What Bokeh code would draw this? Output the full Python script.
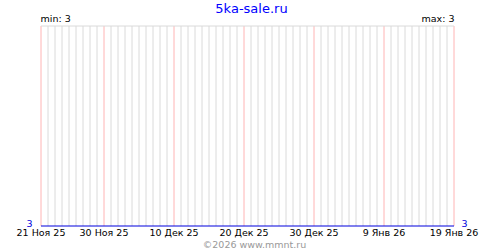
import datetime as dt
from bokeh.plotting import figure
from bokeh.models import Range1d
from bokeh.core.properties import value
from bokeh.embed import file_html
from bokeh.resources import INLINE

# ---- data ----
title_text = "5ka-sale.ru"
footer_text = "\u00a92026 www.mmnt.ru"
start_date = dt.date(2025, 11, 21)
n_days = 60
values = [3, 3, 3, 3, 3, 3, 3, 3, 3, 3,
          3, 3, 3, 3, 3, 3, 3, 3, 3, 3,
          3, 3, 3, 3, 3, 3, 3, 3, 3, 3,
          3, 3, 3, 3, 3, 3, 3, 3, 3, 3,
          3, 3, 3, 3, 3, 3, 3, 3, 3, 3,
          3, 3, 3, 3, 3, 3, 3, 3, 3, 3]
tick_dates = [dt.date(2025, 11, 21), dt.date(2025, 11, 30), dt.date(2025, 12, 10),
              dt.date(2025, 12, 20), dt.date(2025, 12, 30), dt.date(2026, 1, 9),
              dt.date(2026, 1, 19)]
tick_labels = ["21 Ноя 25", "30 Ноя 25", "10 Дек 25", "20 Дек 25",
               "30 Дек 25", "9 Янв 26", "19 Янв 26"]

days = list(range(n_days))
tick_days = [(d - start_date).days for d in tick_dates]
vmin, vmax = min(values), max(values)
span = (vmax - vmin) if vmax > vmin else 1.0

# ---- layout (pixels) ----
W, H = 500, 250
left_px, day_px = 40.5, 7.0
top_px, bottom_px = 25.5, 225.5
ppv = (bottom_px - top_px) / span

def X(px):
    return (px - left_px) / day_px

def Y(py):
    return vmin + (bottom_px - py) / ppv

p = figure(width=W, height=H, output_backend="svg", toolbar_location=None,
           x_range=Range1d(X(0), X(W)), y_range=Range1d(Y(H), Y(0)),
           min_border=0, outline_line_color=None)
p.axis.visible = False
p.grid.visible = False
p.background_fill_color = "white"
p.border_fill_color = "white"

font = value("DejaVu Sans")

# daily grid lines
gray_days = [d for d in days if d not in tick_days]
p.segment(x0=gray_days, y0=[vmin] * len(gray_days), x1=gray_days,
          y1=[vmin + span] * len(gray_days), line_color="#dadada", line_width=1)
p.segment(x0=tick_days, y0=[vmin] * len(tick_days), x1=tick_days,
          y1=[vmin + span] * len(tick_days), line_color="#ffb4b4", line_width=1)
# top border
p.segment(x0=[days[0]], y0=[vmin + span], x1=[days[-1]], y1=[vmin + span],
          line_color="#dadada", line_width=1)

# series
p.line(days, values, line_color="#0000dd", line_width=1)

# texts
p.text(x=[X(251)], y=[Y(7.5)], text=[title_text], text_font=font,
       text_font_size="13px", text_color="#0000ff", text_align="center",
       text_baseline="middle")
p.text(x=[X(40)], y=[Y(17.5)], text=["min: %d" % vmin], text_font=font,
       text_font_size="9.5px", text_color="black", text_align="left",
       text_baseline="middle")
p.text(x=[X(454)], y=[Y(17.5)], text=["max: %d" % vmax], text_font=font,
       text_font_size="9.5px", text_color="black", text_align="right",
       text_baseline="middle")
p.text(x=[X(32)], y=[Y(223)], text=[str(vmin)], text_font=font,
       text_font_size="9.5px", text_color="#0000dd", text_align="right",
       text_baseline="middle")
p.text(x=[X(461)], y=[Y(223)], text=[str(vmin)], text_font=font,
       text_font_size="9.5px", text_color="#0000dd", text_align="left",
       text_baseline="middle")
p.text(x=tick_days, y=[Y(231.5)] * len(tick_days), text=tick_labels, text_font=font,
       text_font_size="9.5px", text_color="black", text_align="center",
       text_baseline="middle")
p.text(x=[X(254)], y=[Y(243.5)], text=[footer_text], text_font=font,
       text_font_size="9.5px", text_color="#999999", text_align="center",
       text_baseline="middle")

open("out.html", "w").write(file_html(p, INLINE))
